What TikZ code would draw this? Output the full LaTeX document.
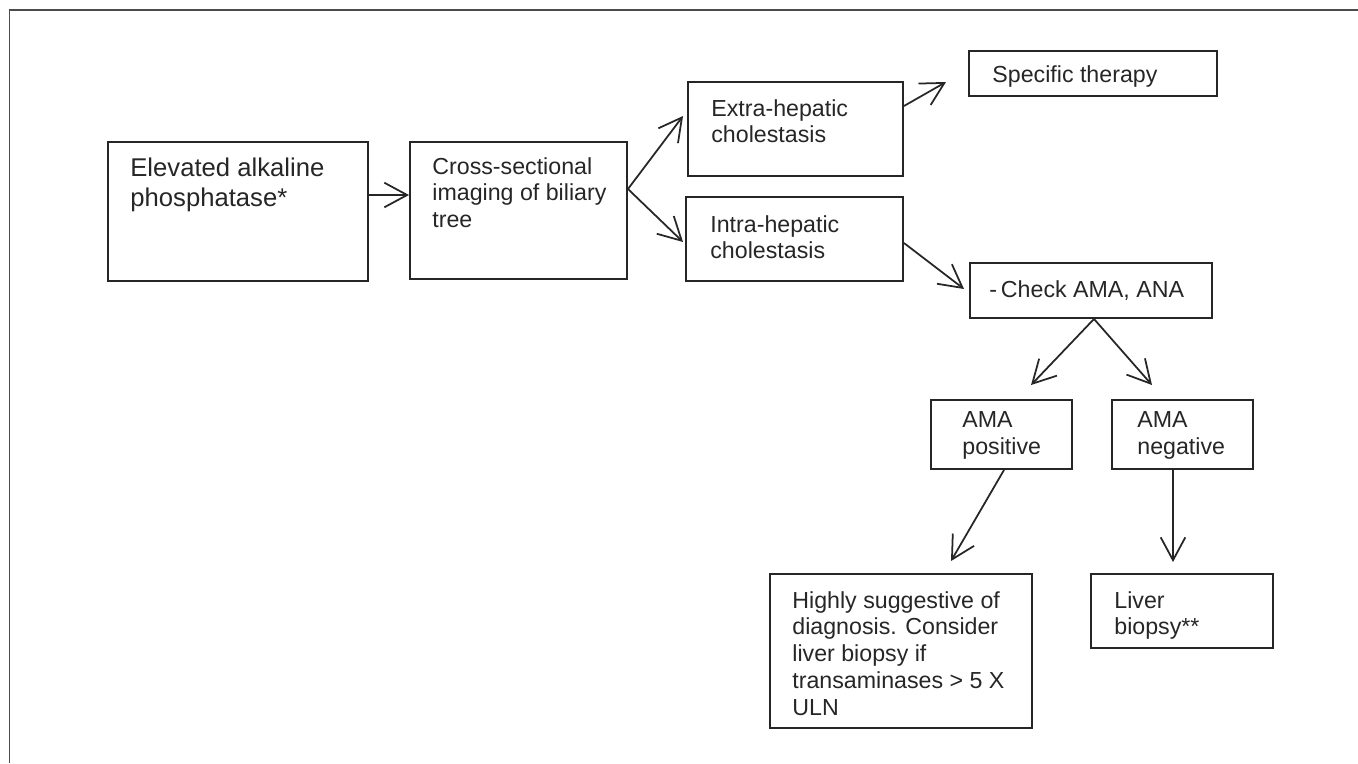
\documentclass[tikz,border=0pt]{standalone}
\usepackage{fontspec}
\setmainfont{Liberation Sans}
\usetikzlibrary{arrows.meta}

\tikzset{
  box/.style={draw=black!85, line width=1.1pt, inner sep=0pt},
  txt/.style={anchor=north west, inner sep=0pt, align=left, text=black!85,
    font=\fontsize{13.2}{15.2}\selectfont},
  arr/.style={draw=black!85, line width=1pt, -{Straight Barb[length=13pt,width=14pt]}}
}

\begin{document}
\begin{tikzpicture}

\useasboundingbox (0,0) rectangle (27.16,-15.26);
\draw [black!70, line width=1.1pt] (0.19,-15.26) -- (0.19,-0.2) -- (27.16,-0.2);

\node [box, minimum width=5.2cm, minimum height=2.78cm] (elev) at (4.76,-4.23) {};
\node [box, minimum width=4.34cm, minimum height=2.74cm] (cross) at (10.37,-4.21) {};
\node [box, minimum width=4.3cm, minimum height=1.88cm] (extra) at (15.91,-2.58) {};
\node [box, minimum width=4.34cm, minimum height=1.68cm] (intra) at (15.89,-4.78) {};
\node [box, minimum width=4.96cm, minimum height=0.9cm] (therapy) at (21.86,-1.47) {};
\node [box, minimum width=4.84cm, minimum height=1.1cm] (check) at (21.82,-5.81) {};
\node [box, minimum width=2.82cm, minimum height=1.38cm] (pos) at (20.03,-8.69) {};
\node [box, minimum width=2.82cm, minimum height=1.38cm] (neg) at (23.65,-8.69) {};
\node [box, minimum width=5.24cm, minimum height=3.08cm] (suggest) at (18.02,-13.02) {};
\node [box, minimum width=3.64cm, minimum height=1.48cm] (biopsy) at (23.64,-12.22) {};

\node [txt, font=\fontsize{14.6}{17}\selectfont] (elevtxt) at ([shift={(0.46,-0.34)}]elev.north west) {Elevated alkaline\\phosphatase*};
\node [txt] (crosstxt) at ([shift={(0.46,-0.32)}]cross.north west) {Cross-sectional\\imaging of biliary\\tree};
\node [txt] (extratxt) at ([shift={(0.48,-0.36)}]extra.north west) {Extra-hepatic\\cholestasis};
\node [txt] (intratxt) at ([shift={(0.5,-0.38)}]intra.north west) {Intra-hepatic\\cholestasis};
\node [txt] (therapytxt) at ([shift={(0.48,-0.3)}]therapy.north west) {Specific therapy};
\node [txt] (checktxt) at ([shift={(0.4,-0.36)}]check.north west) {-\,Check AMA, ANA};
\node [txt] (postxt) at ([shift={(0.64,-0.24)}]pos.north west) {AMA\\positive};
\node [txt] (negtxt) at ([shift={(0.52,-0.24)}]neg.north west) {AMA\\negative};
\node [txt] (suggesttxt) at ([shift={(0.46,-0.36)}]suggest.north west) {Highly suggestive of\\diagnosis. Consider\\liver biopsy if\\transaminases > 5 X\\ULN};
\node [txt] (biopsytxt) at ([shift={(0.48,-0.36)}]biopsy.north west) {Liver\\biopsy**};

\draw [arr] ([yshift=0.33cm]elev.east) -- ([yshift=0.31cm]cross.west);
\draw [arr] ([yshift=0.43cm]cross.east) -- ([shift={(-0.08,0.26)}]extra.west);
\draw [arr] ([yshift=0.43cm]cross.east) -- ([shift={(-0.04,-0.06)}]intra.west);
\draw [arr] ([yshift=0.46cm]extra.east) -- ([shift={(-0.44,-0.17)}]therapy.west);
\draw [arr] ([yshift=-0.08cm]intra.east) -- ([shift={(-0.1,0.03)}]check.west);
\draw [arr] ([xshift=0.06cm]check.south) -- ([shift={(0.59,0.28)}]pos.north);
\draw [arr] ([xshift=0.06cm]check.south) -- ([shift={(-0.61,0.28)}]neg.north);
\draw [arr] ([xshift=0.05cm]pos.south) -- ([shift={(1.0,0.24)}]suggest.north);
\draw [arr] ([xshift=-0.19cm]neg.south) -- ([shift={(-0.18,0.22)}]biopsy.north);

\end{tikzpicture}
\end{document}
